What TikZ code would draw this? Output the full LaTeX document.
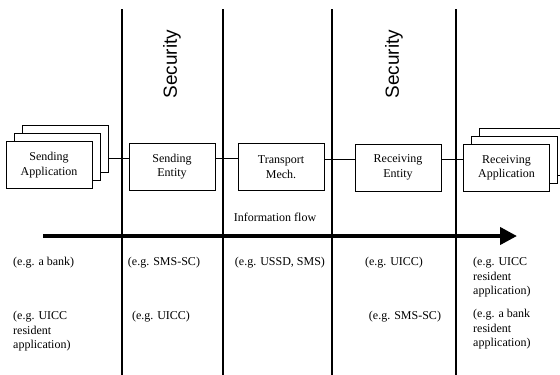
\documentclass[tikz,border=0pt]{standalone}
\usepackage{fontspec}
\setmainfont{Liberation Serif}
\newfontfamily\secfont{Liberation Sans}
\usetikzlibrary{arrows.meta}

\tikzset{
  entbox/.style={draw, fill=white, line width=0.8pt, minimum width=86pt, minimum height=47pt,
    inner sep=0pt, align=center, font=\fontsize{12}{14.5}\selectfont},
  note/.style={inner sep=0pt, align=left, font=\fontsize{12}{14.5}\selectfont},
  seclabel/.style={rotate=90, inner sep=0pt, font=\secfont\fontsize{19}{22}\selectfont},
}

\begin{document}
\begin{tikzpicture}[x=1pt,y=-1pt]
\useasboundingbox (0,0) rectangle (560,375);

% domain borders
\foreach \x in {122,223,332,456}{
  \draw[line width=1.2pt] (\x,9) -- (\x,375);
}

\node[seclabel] (sec1) at (172,64) {Security};
\node[seclabel] (sec2) at (394,64) {Security};

% stacked application boxes
\foreach \k in {2,1}{
  \node[entbox] (sa\k) at (49+8*\k,165-8*\k) {};
}
\node[entbox] (sa0) at (49,165) {Sending\\Application};
\foreach \k in {2,1}{
  \node[entbox] (ra\k) at (506.5+8*\k,168-8*\k) {};
}
\node[entbox] (ra0) at (506.5,168) {Receiving\\Application};

\node[entbox] (sent) at (172,166.5) {Sending\\Entity};
\node[entbox] (tmech) at (281,167) {Transport\\Mech.};
\node[entbox] (rent) at (398,167.5) {Receiving\\Entity};

\draw[line width=0.8pt] ([yshift=8pt]sent.west -| sa2.east) -- ([yshift=8pt]sent.west);
\draw[line width=0.8pt] ([yshift=8pt]sent.east) -- ([yshift=8pt]sent.east -| tmech.west);
\draw[line width=0.8pt] ([yshift=8pt]tmech.east) -- ([yshift=8pt]tmech.east -| rent.west);
\draw[line width=0.8pt] ([yshift=8pt]rent.east) -- ([yshift=8pt]rent.east -| ra0.west);

% information flow
\node[note] (flow) at (275,217) {Information flow};
\coordinate (flowstart) at (43,236);
\coordinate (flowend) at (517,236);
\draw[line width=4pt, -{Triangle[length=17pt,width=17pt]}] (flowstart) -- (flowend);

% examples
\node[note, anchor=west] (bank) at (13,263) {(e.g. a bank)};
\node[note] (smssc) at (164,263) {(e.g. SMS-SC)};
\node[note] (ussd) at (280,263) {(e.g. USSD, SMS)};
\node[note] (uicc) at (394,263) {(e.g. UICC)};
\node[note, anchor=north west] (uiccapp) at (473,257) {(e.g. UICC\\resident\\application)};

\node[note, anchor=north west] (uiccres) at (13,311) {(e.g. UICC\\resident\\application)};
\node[note] (uicc2) at (161,317) {(e.g. UICC)};
\node[note] (smssc2) at (405,317) {(e.g. SMS-SC)};
\node[note, anchor=north west] (bankres) at (473,309) {(e.g. a bank\\resident\\application)};

\end{tikzpicture}
\end{document}
